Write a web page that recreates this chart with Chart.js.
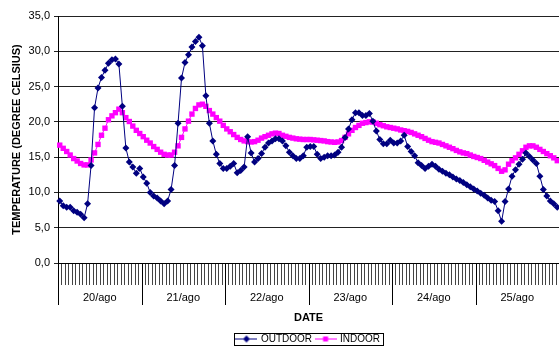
<!DOCTYPE html>
<html>
<head>
<meta charset="utf-8">
<script src="https://cdn.jsdelivr.net/npm/chart.js@4/dist/chart.umd.min.js"></script>
<style>
  html, body { margin: 0; padding: 0; background: #fff; overflow: hidden; }
</style>
</head>
<body>
<canvas id="TempChart" width="563" height="346"></canvas>
<script>
const days = ["20/ago", "21/ago", "22/ago", "23/ago", "24/ago", "25/ago"];
const hours = [0, 1, 2, 3, 4, 5, 6, 7, 8, 9, 10, 11, 12, 13, 14, 15, 16, 17, 18, 19, 20, 21, 22, 23];
const yTicks = [0, 5, 10, 15, 20, 25, 30, 35];

// hourly readings, 20/ago 0h .. 25/ago 23h
const outdoor = [
    8.8, 8.1, 7.9, 7.9, 7.4, 7.2, 6.9, 6.4, 8.4, 13.8, 22.0, 24.8, 26.3, 27.3, 28.3, 28.8, 28.9, 28.2, 22.2, 16.3, 14.3, 13.6, 12.7, 13.4,
    12.2, 11.3, 10.0, 9.5, 9.2, 8.8, 8.4, 8.8, 10.4, 13.8, 19.8, 26.2, 28.4, 29.5, 30.6, 31.4, 32.0, 30.8, 23.7, 19.8, 17.3, 15.4, 14.1, 13.4,
    13.4, 13.7, 14.1, 12.8, 13.1, 13.6, 17.9, 15.6, 14.3, 14.8, 15.5, 16.4, 17.0, 17.3, 17.6, 17.6, 17.3, 16.6, 15.7, 15.2, 14.8, 14.8, 15.2, 16.4,
    16.5, 16.5, 15.4, 14.8, 15.0, 15.2, 15.2, 15.3, 15.7, 16.4, 17.8, 19.0, 20.3, 21.3, 21.3, 20.9, 20.9, 21.2, 20.1, 18.7, 17.5, 16.9, 16.9, 17.4,
    17.0, 17.0, 17.3, 18.1, 16.5, 15.8, 15.2, 14.2, 13.8, 13.4, 13.7, 14.0, 13.7, 13.3, 13.0, 12.7, 12.5, 12.2, 11.9, 11.7, 11.4, 11.1, 10.8, 10.5,
    10.2, 9.9, 9.6, 9.2, 8.9, 8.7, 7.4, 5.9, 8.7, 10.5, 12.3, 13.2, 14.0, 14.7, 15.6, 15.1, 14.6, 14.1, 12.3, 10.4, 9.5, 8.8, 8.4, 7.9
];
const indoor = [
    16.7, 16.25, 15.8, 15.3, 14.8, 14.45, 14.1, 13.9, 13.9, 14.6, 15.6, 16.8, 18.1, 19.1, 20.3, 20.85, 21.3, 21.8, 21.3, 20.6, 20.05, 19.4, 18.8, 18.35,
    17.9, 17.4, 17.0, 16.5, 16.1, 15.7, 15.4, 15.3, 15.3, 15.7, 16.6, 17.8, 19.0, 20.1, 21.1, 21.9, 22.4, 22.5, 22.2, 21.6, 21.1, 20.6, 20.1, 19.5,
    19.0, 18.6, 18.2, 17.8, 17.5, 17.3, 17.2, 17.15, 17.2, 17.4, 17.7, 17.9, 18.1, 18.3, 18.4, 18.35, 18.1, 17.95, 17.8, 17.7, 17.6, 17.55, 17.5, 17.5,
    17.5, 17.45, 17.4, 17.35, 17.3, 17.2, 17.15, 17.1, 17.15, 17.35, 17.8, 18.3, 18.8, 19.2, 19.5, 19.8, 19.9, 20.0, 20.0, 19.8, 19.6, 19.45, 19.3, 19.2,
    19.1, 19.0, 18.85, 18.75, 18.65, 18.5, 18.3, 18.1, 17.9, 17.65, 17.4, 17.2, 17.1, 17.0, 16.8, 16.6, 16.4, 16.2, 15.95, 15.75, 15.6, 15.5, 15.3, 15.1,
    14.95, 14.8, 14.55, 14.3, 14.05, 13.8, 13.4, 13.0, 13.2, 14.0, 14.5, 14.9, 15.4, 15.9, 16.4, 16.6, 16.6, 16.4, 16.1, 15.8, 15.5, 15.2, 14.9, 14.5
];

const hourLabels = days.flatMap(() => hours.map(h => String(h)));

Chart.defaults.font.family = "'Liberation Sans', Arial, sans-serif";
Chart.defaults.color = "#000";

// little line+marker picture for the legend
function legendIcon(color, shape) {
    let c = document.createElement("canvas");
    c.width = 22;
    c.height = 9;
    let g = c.getContext("2d");
    g.strokeStyle = color;
    g.lineWidth = 1;
    g.beginPath();
    g.moveTo(0, 4.5);
    g.lineTo(22, 4.5);
    g.stroke();
    g.fillStyle = color;
    if (shape === "diamond") {
        g.beginPath();
        g.moveTo(11, 1);
        g.lineTo(14.5, 4.5);
        g.lineTo(11, 8);
        g.lineTo(7.5, 4.5);
        g.closePath();
        g.fill();
    } else {
        g.fillRect(8.5, 2, 5, 5);
    }
    return c;
}

// hour / day separators under the category axis (two level axis)
const categoryDividers = {
    id: "categoryDividers",
    beforeDraw(chart) {
        let xs = chart.scales.x;
        let ctx = chart.ctx;
        let y0 = chart.chartArea.bottom;
        let n = hourLabels.length;
        let step = (xs.getPixelForValue(n - 1) - xs.getPixelForValue(0)) / (n - 1);
        ctx.save();
        ctx.lineWidth = 1;
        for (let i = 0; i <= n; i++) {
            let px = Math.round(xs.getPixelForValue(0) + (i - 0.5) * step) + 0.5;
            let isDay = i % hours.length === 0;
            ctx.strokeStyle = isDay ? "#000" : "#444";
            ctx.beginPath();
            ctx.moveTo(px, y0);
            ctx.lineTo(px, y0 + (isDay ? 42 : 22));
            ctx.stroke();
        }
        ctx.restore();
    }
};

const legendFrame = {
    id: "legendFrame",
    afterDraw(chart) {
        let boxes = chart.legend.legendHitBoxes;
        if (!boxes || !boxes.length) return;
        let l = Math.min(...boxes.map(b => b.left)) - 3;
        let r = Math.max(...boxes.map(b => b.left + b.width)) + 3;
        let t = Math.min(...boxes.map(b => b.top)) - 1;
        let btm = Math.max(...boxes.map(b => b.top + b.height)) + 1;
        let ctx = chart.ctx;
        ctx.save();
        ctx.strokeStyle = "#000";
        ctx.lineWidth = 1;
        ctx.strokeRect(Math.round(l) + 0.5, Math.round(t) + 0.5, Math.round(r - l), Math.round(btm - t));
        ctx.restore();
    }
};

const fixedHeight = h => scale => {
    scale.height = h;
    scale.paddingLeft = 0;
    scale.paddingRight = 0;
};

let ctx = document.getElementById("TempChart").getContext("2d");
let tempChart = new Chart(ctx, {
    type: "line",
    data: {
        labels: hourLabels,
        datasets: [{
            label: "OUTDOOR",
            data: outdoor,
            borderColor: "#000080",
            backgroundColor: "#000080",
            borderWidth: 1,
            pointStyle: "rectRot",
            pointRadius: 3.5,
            pointBorderWidth: 0,
            tension: 0
        }, {
            label: "INDOOR",
            data: indoor,
            borderColor: "#FF00FF",
            backgroundColor: "#FF00FF",
            borderWidth: 1,
            pointStyle: "rect",
            pointRadius: 3.8,
            pointBorderWidth: 0,
            tension: 0
        }]
    },
    options: {
        responsive: false,
        animation: false,
        layout: { padding: { left: 6.4, right: 1, top: 16, bottom: -8 } },
        plugins: {
            tooltip: { enabled: false },
            legend: {
                position: "bottom",
                fullSize: false,
                labels: {
                    usePointStyle: true,
                    pointStyleWidth: 19,
                    padding: 4,
                    font: { size: 10 },
                    color: "#000",
                    generateLabels: chart => chart.data.datasets.map((ds, i) => ({
                        text: ds.label,
                        datasetIndex: i,
                        pointStyle: legendIcon(ds.borderColor, i === 0 ? "diamond" : "square"),
                        fillStyle: ds.backgroundColor,
                        strokeStyle: ds.borderColor,
                        lineWidth: 0,
                        hidden: false
                    }))
                }
            }
        },
        scales: {
            x: {
                type: "category",
                offset: true,
                grid: { display: false },
                border: { color: "#000" },
                afterFit: fixedHeight(18),
                ticks: {
                    autoSkip: false,
                    maxRotation: 90,
                    minRotation: 90,
                    padding: 11.5,
                    font: { size: 8 },
                    callback: (v, i) => (i % 4 === 0 ? hourLabels[i] : "")
                }
            },
            x2: {
                type: "category",
                axis: "x",
                position: "bottom",
                labels: days,
                offset: true,
                grid: { display: false },
                border: { display: false },
                afterFit: fixedHeight(49),
                ticks: { autoSkip: false, padding: 2.6, font: { size: 11 } },
                title: { display: true, text: "DATE", font: { size: 11, weight: "bold" }, padding: { top: 0, bottom: 5 } }
            },
            y: {
                min: 0,
                max: 35,
                grid: { color: "#222", tickLength: 4 },
                border: { color: "#000" },
                afterBuildTicks: scale => { scale.ticks = yTicks.map(v => ({ value: v })); },
                ticks: {
                    padding: 4,
                    font: { size: 11 },
                    callback: v => v.toFixed(1).replace(".", ",")
                },
                title: { display: true, text: "TEMPERATURE (DEGREE CELSIUS)", font: { size: 11, weight: "bold" }, padding: { top: 4, bottom: 1 } }
            }
        }
    },
    plugins: [categoryDividers, legendFrame]
});
</script>
</body>
</html>
